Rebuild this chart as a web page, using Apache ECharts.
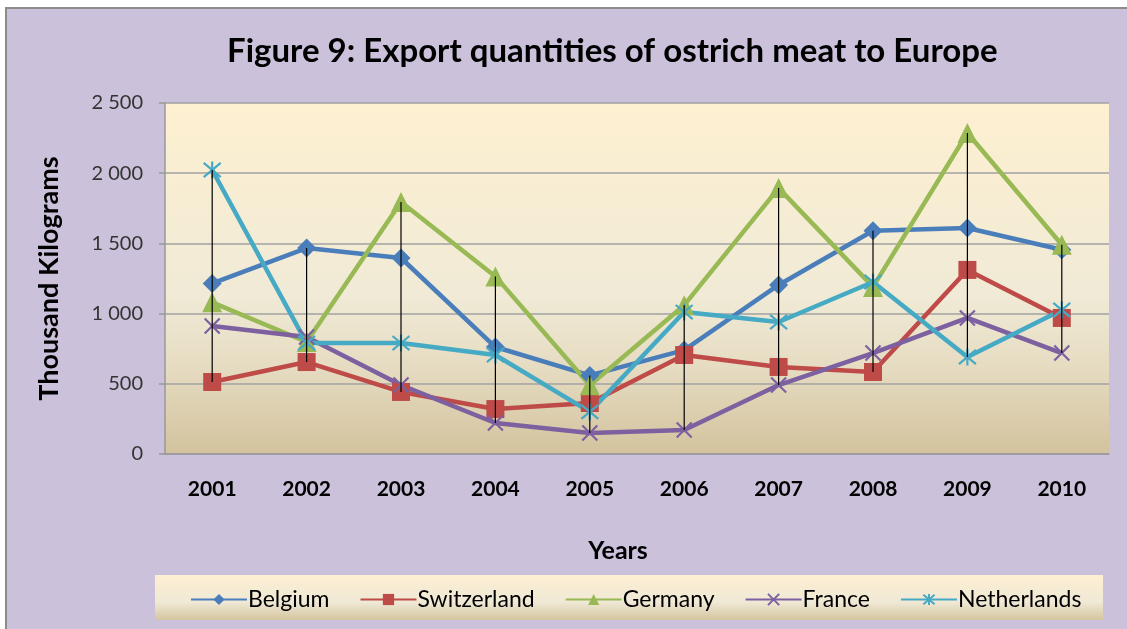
<!DOCTYPE html>
<html>
<head>
<meta charset="utf-8">
<script src="https://cdn.jsdelivr.net/npm/echarts@6/dist/echarts.min.js"></script>
<style>
  html, body { margin: 0; padding: 0; background: #fff; }
  #chart { width: 1127px; height: 629px; }
</style>
</head>
<body>
<div id="chart"></div>
<script>
const years = ['2001', '2002', '2003', '2004', '2005', '2006', '2007', '2008', '2009', '2010'];
const belgium = [1215, 1467, 1396, 762, 560, 740, 1204, 1590, 1610, 1455];
const switzerland = [513, 655, 442, 320, 363, 705, 620, 584, 1311, 969];
const germany = [1080, 798, 1795, 1265, 490, 1060, 1894, 1190, 2286, 1490];
const france = [912, 833, 491, 221, 150, 171, 491, 719, 969, 719];
const netherlands = [2023, 790, 790, 705, 300, 1011, 940, 1225, 691, 1026];

const font = 'Lato, "Open Sans", sans-serif';
const all = [belgium, switzerland, germany, france, netherlands];
// high-low line per year, from the highest to the lowest country
const hiLow = years.map((_, i) => [i, Math.max(...all.map((s) => s[i])), Math.min(...all.map((s) => s[i]))]);

const xMark = 'path://M0,0L10,10M10,0L0,10';
const starMark = 'path://M0,0L10,10M10,0L0,10M5,-1L5,11';

function lineSeries(name, data, color, symbol, size, stroked) {
    return {
        name,
        type: 'line',
        data,
        symbol,
        symbolSize: size,
        lineStyle: { color, width: 4.5 },
        itemStyle: stroked
            ? { color: 'none', borderColor: color, borderWidth: 2.2 }
            : { color },
        emphasis: { disabled: true },
        z: 3,
    };
}

const chart = echarts.init(document.getElementById('chart'), null, { renderer: 'canvas' });
chart.setOption({
    animation: false,
    backgroundColor: '#fff',
    textStyle: { fontFamily: font },
    graphic: [
        {
            type: 'rect', z: -10, silent: true,
            shape: { x: 6, y: 8, width: 1130, height: 630 },
            style: { fill: '#CBC1DA', stroke: '#8C8C8C', lineWidth: 2 },
        },
        {
            type: 'rect', z: -5, silent: true,
            shape: { x: 155, y: 575, width: 948, height: 45 },
            style: {
                fill: new echarts.graphic.LinearGradient(0, 0, 0, 1, [
                    { offset: 0, color: '#FDEFD1' },
                    { offset: 0.6, color: '#F0E9D6' },
                    { offset: 1, color: '#D4C59F' },
                ]),
            },
        },
    ],
    title: {
        text: 'Figure 9: Export quantities of ostrich meat to Europe',
        left: 222,
        top: 30,
        textStyle: { fontFamily: font, fontSize: 33, fontWeight: 'bold', color: '#000' },
    },
    legend: {
        data: ['Belgium', 'Switzerland', 'Germany', 'France', 'Netherlands'],
        left: 185,
        top: 583,
        itemWidth: 56,
        itemHeight: 14,
        itemGap: 30,
        textStyle: { fontFamily: font, fontSize: 23, color: '#000', padding: [0, 0, 0, -4] },
    },
    grid: {
        left: 165, right: 18, top: 103, bottom: 175,
        show: true,
        borderWidth: 0,
        backgroundColor: new echarts.graphic.LinearGradient(0, 0, 0, 1, [
            { offset: 0, color: '#FEF0D1' },
            { offset: 0.55, color: '#F0EAD6' },
            { offset: 0.75, color: '#E6DCC2' },
            { offset: 1, color: '#D3C39E' },
        ]),
    },
    xAxis: {
        type: 'category',
        data: years,
        name: 'Years',
        nameLocation: 'middle',
        nameGap: 84,
        nameTextStyle: { fontFamily: font, fontSize: 25, fontWeight: 'bold', color: '#000', padding: [0, 38, 0, 0] },
        axisLine: { lineStyle: { color: '#999', width: 1.5 } },
        axisTick: { show: false },
        axisLabel: { fontFamily: font, fontSize: 21, fontWeight: 'bold', color: '#000', margin: 25 },
    },
    yAxis: {
        type: 'value',
        min: 0,
        max: 2500,
        interval: 500,
        name: 'Thousand Kilograms',
        nameLocation: 'middle',
        nameGap: 102,
        nameTextStyle: { fontFamily: font, fontSize: 27, fontWeight: 'bold', color: '#000' },
        axisLine: { show: true, lineStyle: { color: '#999', width: 1.5 } },
        axisTick: { show: true, length: 6, lineStyle: { color: '#999', width: 1.5 } },
        axisLabel: {
            fontFamily: font, fontSize: 20, color: '#333', margin: 22,
            formatter: (v) => String(v).replace(/\B(?=(\d{3})+(?!\d))/g, ' '),
        },
        splitLine: { lineStyle: { color: '#A2A2A2', width: 1.5 } },
    },
    series: [
        lineSeries('Belgium', belgium, '#4A7EBB', 'diamond', 19, false),
        lineSeries('Switzerland', switzerland, '#BE4B48', 'rect', 18, false),
        lineSeries('Germany', germany, '#98B954', 'triangle', 20, false),
        lineSeries('France', france, '#7D60A0', xMark, 15, true),
        lineSeries('Netherlands', netherlands, '#46AAC5', starMark, 17, true),
        {
            name: 'range',
            type: 'custom',
            data: hiLow,
            z: 5,
            silent: true,
            renderItem: (params, api) => {
                const top = api.coord([api.value(0), api.value(1)]);
                const bottom = api.coord([api.value(0), api.value(2)]);
                return {
                    type: 'line',
                    shape: { x1: top[0], y1: top[1], x2: bottom[0], y2: bottom[1] },
                    style: { stroke: '#000', lineWidth: 1.2 },
                };
            },
        },
    ],
});
</script>
</body>
</html>
